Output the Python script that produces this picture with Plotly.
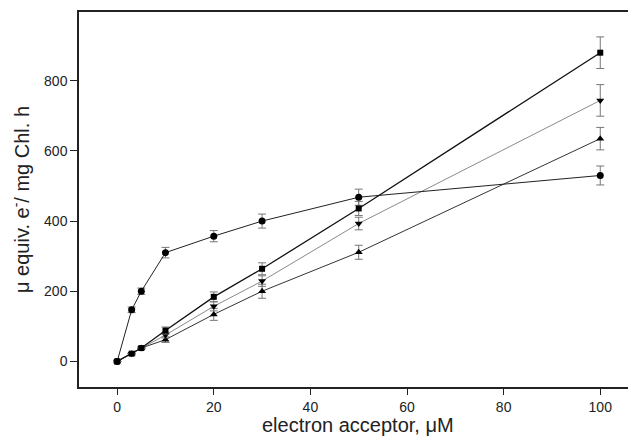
import plotly.graph_objects as go

x_circle = [0, 3, 5, 10, 20, 30, 50, 100]
y_circle = [0, 147, 200, 310, 357, 400, 468, 530]
e_circle = [0, 8, 9, 15, 16, 20, 23, 27]

x_square = [0, 3, 5, 10, 20, 30, 50, 100]
y_square = [0, 22, 38, 88, 184, 264, 436, 880]
e_square = [0, 0, 0, 10, 14, 17, 20, 45]

x_down = [0, 3, 5, 10, 20, 30, 50, 100]
y_down = [0, 22, 38, 75, 157, 229, 393, 744]
e_down = [0, 0, 0, 8, 13, 15, 18, 45]

x_up = [0, 3, 5, 10, 20, 30, 50, 100]
y_up = [0, 22, 38, 62, 134, 200, 311, 635]
e_up = [0, 0, 0, 8, 17, 20, 20, 32]

x_ticks = [0, 20, 40, 60, 80, 100]
y_ticks = [0, 200, 400, 600, 800]

x_title = "electron acceptor, μM"
y_title = "μ equiv. e<sup>-</sup>/ mg Chl. h"

fig = go.Figure()

def add(x, y, e, symbol, lcolor, lwidth, msize):
    fig.add_trace(go.Scatter(
        x=x, y=y, mode="lines+markers",
        line=dict(color=lcolor, width=lwidth),
        marker=dict(symbol=symbol, size=msize, color="black"),
        error_y=dict(type="data", array=e, visible=True, color="#777777",
                     thickness=1, width=4),
        showlegend=False,
    ))

add(x_up, y_up, e_up, "triangle-up", "#333333", 1, 7)
add(x_down, y_down, e_down, "triangle-down", "#8a8a8a", 1, 7)
add(x_circle, y_circle, e_circle, "circle", "#222222", 1, 7)
add(x_square, y_square, e_square, "square", "#111111", 1.3, 6)

font_family = "Liberation Sans, Arial, sans-serif"

# the page body has an 8px default margin, so the figure is sized to fill the window
fig.update_layout(
    width=628, height=437,
    margin=dict(l=71, r=0, t=4, b=58),
    paper_bgcolor="white", plot_bgcolor="white",
    font=dict(family=font_family, color="#222222", size=14),
    xaxis=dict(
        range=[-7.9, 107.4], tickvals=x_ticks, ticks="outside", ticklen=6,
        tickcolor="#222222", tickwidth=1, showgrid=False, zeroline=False,
        showline=True, linecolor="#222222", linewidth=1.5, mirror=True,
        tickfont=dict(size=14),
    ),
    yaxis=dict(
        range=[-73, 996], tickvals=y_ticks, ticks="outside", ticklen=7,
        tickcolor="#222222", tickwidth=1, showgrid=False, zeroline=False,
        showline=True, linecolor="#222222", linewidth=1.5,
        tickfont=dict(size=14),
        title=dict(text=y_title, font=dict(size=20), standoff=14),
    ),
    annotations=[dict(
        text=x_title, xref="paper", yref="paper", x=0.5, y=-0.101,
        xanchor="center", yanchor="middle", showarrow=False,
        font=dict(size=20, family=font_family, color="#222222"),
    )],
)

fig.write_html("out.html")
